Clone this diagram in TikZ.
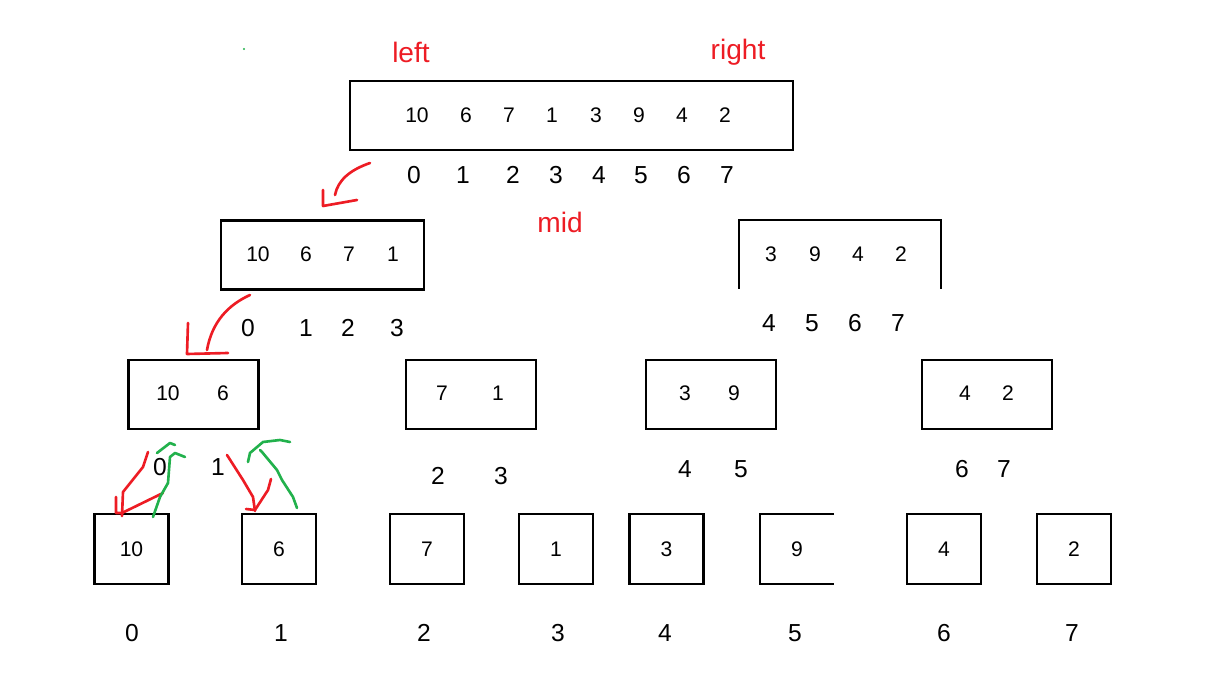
\documentclass[tikz,border=0pt]{standalone}
\usepackage{fontspec}
\setmainfont{Liberation Sans}
\definecolor{PenRed}{RGB}{237,28,36}
\definecolor{PenGreen}{RGB}{34,177,76}

\tikzset{
  cell/.style={draw,line width=1.25pt,inner sep=0pt},
  wide/.style={cell,minimum width=8.86cm,minimum height=1.38cm},
  half/.style={cell,minimum width=4.06cm,minimum height=1.38cm},
  pair/.style={cell,minimum width=2.6cm,minimum height=1.38cm},
  leaf/.style={cell,minimum width=1.48cm,minimum height=1.4cm,font=\fontsize{12}{14}\selectfont},
  val/.style={font=\fontsize{12}{14}\selectfont,inner sep=0pt},
  idx/.style={font=\fontsize{14}{16}\selectfont,inner sep=0pt},
  tag/.style={text=PenRed,font=\fontsize{16}{18}\selectfont,inner sep=0pt},
  pen/.style={line width=1.5pt,line cap=round,line join=round},
}

\begin{document}
\begin{tikzpicture}[x=0.02cm,y=-0.02cm]
\useasboundingbox (0,0) rectangle (1221,678);

% whole array
\node[wide] (all) at (571.5,115.5) {};
\foreach \v/\x in {10/417,6/466,7/509,1/552,3/596,9/639,4/682,2/725}
  \node[val] at (\x,115) {\v};
\foreach \i/\x in {0/414,1/463,2/513,3/556,4/599,5/641,6/684,7/727}
  \node[idx] at (\x,175) {\i};
\node[tag] (left) at (411,52) {left};
\node[tag] (right) at (738,52) {right};
\node[tag] (mid) at (560,222) {mid};
\fill[PenGreen] (244,49) circle (1.2);

% level two
\node[half] (lo) at (322.5,255) {};
\foreach \v/\x in {10/258,6/306,7/349,1/393}
  \node[val] at (\x,254) {\v};
\foreach \i/\x in {0/248,1/306,2/348,3/397}
  \node[idx] at (\x,328) {\i};

\coordinate (hi) at (840,220);
\draw[line width=1.25pt] (739,289) -- (739,220) -- (941,220) -- (941,289);
\foreach \v/\x in {3/771,9/815,4/858,2/901}
  \node[val] at (\x,254) {\v};
\foreach \i/\x in {4/769,5/812,6/855,7/898}
  \node[idx] at (\x,323) {\i};

% level three
\node[pair] (p0) at (193.5,394.5) {};
\node[pair] (p1) at (471,394.5) {};
\node[pair] (p2) at (711,394.5) {};
\node[pair] (p3) at (987,394.5) {};
\foreach \v/\x in {10/168,6/223,7/442,1/498,3/685,9/734,4/965,2/1008}
  \node[val] at (\x,393) {\v};
\foreach \i/\x/\y in {0/160/467,1/218/467,2/438/476,3/501/476,4/685/469,5/741/469,6/962/469,7/1004/469}
  \node[idx] at (\x,\y) {\i};

% level four
\foreach \v/\x/\n in {10/131.5/0,6/279/1,7/427/2,1/556/3,3/666.5/4,4/944/6,2/1074/7}
  \node[leaf] (q\n) at (\x,549) {\v};
\node[leaf,draw=none] (q5) at (797,549) {9};
\draw[line width=1.25pt] (834,514) -- (760,514) -- (760,584) -- (834,584);
\foreach \i/\x in {0/132,1/281,2/424,3/558,4/665,5/795,6/944,7/1072}
  \node[idx] at (\x,633) {\i};

% red strokes
\draw[pen,PenRed] (370,163) .. controls (350,170) and (338,180) .. (335,195);
\draw[pen,PenRed] (323,190) -- (323,206) -- (357,200);
\draw[pen,PenRed] (250,295) .. controls (228,305) and (212,322) .. (207,350);
\draw[pen,PenRed] (188,323) -- (187,354) -- (228,353);
\draw[pen,PenRed] (148,452) -- (143,467) -- (123,492) -- (122,516);
\draw[pen,PenRed] (116,497) -- (116,513) -- (122,513) -- (163,493);
\draw[pen,PenRed] (227,455) -- (243,480) -- (253,497) -- (255,511);
\draw[pen,PenRed] (246,509) -- (255,510) -- (268,490) -- (271,479);

% green strokes
\draw[pen,PenGreen] (153,517) -- (160,497) -- (168,483) -- (170,457) -- (175,453) -- (185,457);
\draw[pen,PenGreen] (157,453) -- (170,443) -- (175,445);
\draw[pen,PenGreen] (297,508) -- (293,497) -- (282,480) -- (277,470) -- (262,452) -- (260,450);
\draw[pen,PenGreen] (248,462) -- (250,453) -- (263,442) -- (280,440) -- (290,442);
\end{tikzpicture}
\end{document}
